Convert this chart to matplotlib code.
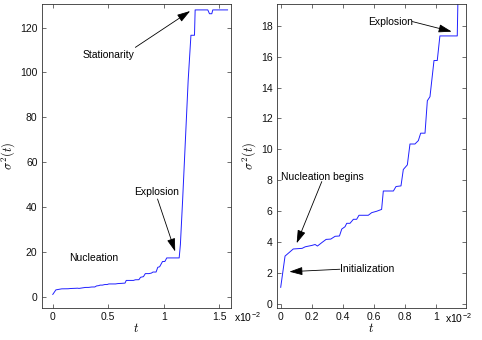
import matplotlib
matplotlib.use('Agg')
import matplotlib.pyplot as plt

plt.rcParams['font.family'] = ['Liberation Sans', 'DejaVu Sans']
plt.rcParams['mathtext.fontset'] = 'cm'

# time in units of 1e-2, variance sigma^2(t)
t_e2 = [0, 0.028, 0.081, 0.138, 0.158, 0.201, 0.222, 0.237, 0.265, 0.293,
        0.323, 0.351, 0.379, 0.394, 0.415, 0.426, 0.447, 0.469, 0.49, 0.505,
        0.565, 0.587, 0.619, 0.651, 0.662, 0.727, 0.744, 0.776, 0.791, 0.817,
        0.834, 0.866, 0.888, 0.903, 0.931, 0.946, 0.963, 0.989, 1.01, 1.027,
        1.139, 1.15, 1.17, 1.22, 1.245, 1.277, 1.283, 1.397, 1.412, 1.433,
        1.442, 1.575]
sigma2 = [1.08, 3.1, 3.56, 3.6, 3.7, 3.79, 3.85, 3.75, 3.97, 4.18,
          4.2, 4.38, 4.4, 4.85, 5.0, 5.22, 5.22, 5.48, 5.48, 5.74,
          5.74, 5.91, 6.0, 6.12, 7.31, 7.31, 7.6, 7.64, 8.7, 9.0,
          10.35, 10.35, 10.57, 11.05, 11.05, 13.15, 13.41, 15.75, 15.75, 17.34,
          17.34, 23.3, 43, 96.4, 116.6, 116.6, 127.9, 127.9, 126.2, 126.2,
          127.9, 127.9]

left_xticks = [0, 0.5, 1, 1.5]
left_xlabels = ['0', '0.5', '1', '1.5']
left_yticks = [0, 20, 40, 60, 80, 100, 120]
right_xticks = [0, 0.2, 0.4, 0.6, 0.8, 1]
right_xlabels = ['0', '0.2', '0.4', '0.6', '0.8', '1']
right_yticks = [0, 2, 4, 6, 8, 10, 12, 14, 16, 18]

fs = 7.5
axcol = '#333333'
arrow = dict(arrowstyle='-|>,head_length=0.8,head_width=0.25', color='black',
             lw=0.6, shrinkA=0, shrinkB=0)

fig = plt.figure(figsize=(4.82, 3.4), dpi=100)
ax1 = fig.add_axes([0.0865, 0.094, 0.3925, 0.894])
ax2 = fig.add_axes([0.574, 0.094, 0.393, 0.894])


def style(ax):
    for s in ax.spines.values():
        s.set_color(axcol)
        s.set_linewidth(0.6)
    ax.tick_params(direction='in', length=3, width=0.5, color=axcol,
                   labelsize=fs, labelcolor='#111111', top=True, right=True,
                   pad=3)
    ax.set_xlabel('$t$', fontsize=9, labelpad=0)
    ax.set_ylabel(r'$\sigma^2(t)$', fontsize=9, labelpad=2)


# left panel: whole evolution
ax1.plot(t_e2, sigma2, color='#2020ff', lw=0.7)
ax1.set_xlim(-0.1, 1.605)
ax1.set_ylim(-5, 130.5)
ax1.set_xticks(left_xticks)
ax1.set_xticklabels(left_xlabels)
ax1.set_yticks(left_yticks)
style(ax1)
ax1.text(1.63, -9.2, r'x10$^{\mathregular{-2}}$', fontsize=fs, va='center',
         ha='left')
ax1.text(0.372, 17.1, 'Nucleation', fontsize=fs, ha='center', va='center')
ax1.text(0.939, 46.7, 'Explosion', fontsize=fs, ha='center', va='center')
ax1.annotate('', xy=(1.103, 20.2), xytext=(0.944, 43.6), arrowprops=arrow)
ax1.text(0.501, 107.9, 'Stationarity', fontsize=fs, ha='center', va='center')
ax1.annotate('', xy=(1.238, 127.4), xytext=(0.744, 111.2), arrowprops=arrow)

# right panel: zoom on the early stage
ax2.plot(t_e2, sigma2, color='#2020ff', lw=0.7)
ax2.set_xlim(-0.026, 1.196)
ax2.set_ylim(-0.26, 19.4)
ax2.set_xticks(right_xticks)
ax2.set_xticklabels(right_xlabels)
ax2.set_yticks(right_yticks)
style(ax2)
ax2.text(1.06, -0.9, r'x10$^{\mathregular{-2}}$', fontsize=fs, va='center',
         ha='left')
ax2.text(0.71, 18.27, 'Explosion', fontsize=fs, ha='center', va='center')
ax2.annotate('', xy=(1.103, 17.62), xytext=(0.849, 18.27), arrowprops=arrow)
ax2.text(0.272, 8.24, 'Nucleation begins', fontsize=fs, ha='center',
         va='center')
ax2.annotate('', xy=(0.103, 3.93), xytext=(0.265, 7.92), arrowprops=arrow)
ax2.text(0.56, 2.25, 'Initialization', fontsize=fs, ha='center', va='center')
ax2.annotate('', xy=(0.056, 2.09), xytext=(0.383, 2.25), arrowprops=arrow)

fig.savefig('out.png', dpi=100)
